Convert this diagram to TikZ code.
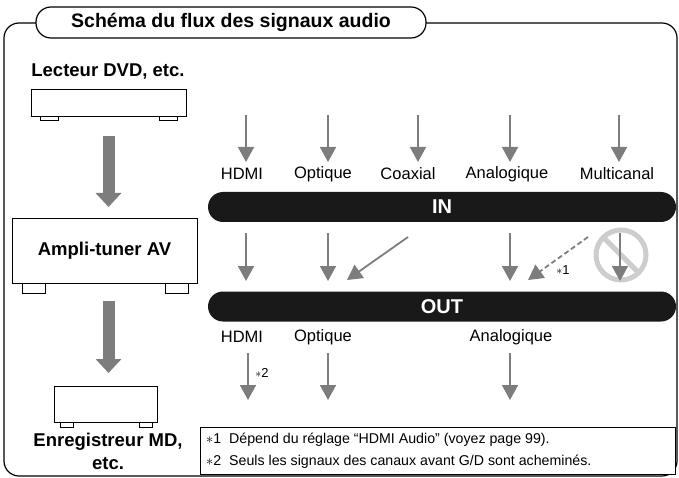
\documentclass[tikz,border=0pt]{standalone}
\usepackage{fontspec}
\setmainfont{Liberation Sans}
\usetikzlibrary{arrows.meta}
\definecolor{arrgray}{RGB}{125,125,125}
\definecolor{nogray}{RGB}{205,205,205}
\tikzset{%
  tipS/.tip={Triangle[width=16pt,length=15pt]},
  tipB/.tip={Triangle[width=25pt,length=14pt]},
  sig/.style={arrgray, line width=1.8pt, -tipS},
  big/.style={arrgray, line width=12pt, -tipB},
  lbl/.style={font=\fontsize{16.5}{18}\selectfont, inner sep=0pt},
  head/.style={font=\bfseries\fontsize{18.5}{21}\selectfont, inner sep=0pt},
  bar/.style={fill=black!90, rounded corners=15pt, minimum width=468pt, minimum height=30pt,
    text=white, font=\bfseries\fontsize{20}{22}\selectfont, inner sep=0pt},
  unit/.style={draw, line width=1pt, fill=white, inner sep=0pt},
  foot/.style={draw, line width=1pt, fill=white},
}
\begin{document}
\begin{tikzpicture}[x=1pt,y=-1pt]
\useasboundingbox (0,0) rectangle (679,478);
% frame and title
\draw[line width=1.2pt, rounded corners=15pt] (4,23) rectangle (677,476);
\draw[line width=1.2pt, fill=white, rounded corners=15pt] (36,7) rectangle (426,38);
\node[head, font=\bfseries\fontsize{19.5}{22}\selectfont] (title) at (231,22.5) {Schéma du flux des signaux audio};
% left column: devices
\node[head] (dvdname) at (108,72) {Lecteur DVD, etc.};
\node[unit, minimum width=155pt, minimum height=27pt] (dvd) at (108.5,103.5) {};
\draw[foot] (40,117) rectangle (58,121);
\draw[foot] (159,117) rectangle (177,121);
\node[unit, minimum width=185pt, minimum height=64pt, font=\bfseries\fontsize{18.5}{21}\selectfont] (amp) at (104.5,251) {Ampli-tuner AV};
\draw[foot] (22,283) rectangle (45,293);
\draw[foot] (165,283) rectangle (188,293);
\node[unit, minimum width=103pt, minimum height=36pt] (md) at (105.5,404) {};
\draw[foot] (60,422) rectangle (73,427);
\draw[foot] (139,422) rectangle (152,427);
\node[head, align=center] (mdname) at (108,451) {Enregistreur MD,\\[2pt]etc.};
\coordinate (dvdout) at (108.5,136);
\coordinate (ampin) at (108.5,207);
\coordinate (ampout) at (108.5,301);
\coordinate (mdin) at (108.5,373);
\draw[big] (dvdout) -- (ampin);
\draw[big] (ampout) -- (mdin);
% bars
\node[bar] (in) at (442,207) {IN};
\node[bar] (out) at (442,306.5) {OUT};
% inputs
\foreach \name/\ax/\lx in {HDMI/246/242, Optique/328/323, Coaxial/418/408, Analogique/510/507, Multicanal/619/617}{
  \coordinate (src\name) at (\ax,115);
  \coordinate (dst\name) at (\ax,162);
  \draw[sig] (src\name) -- (dst\name);
  \node[lbl] (in\name) at (\lx,174) {\name};
}
% between IN and OUT
\foreach \name/\ax in {HDMI/246, Optique/328, Analogique/510, Multicanal/620}{
  \coordinate (mida\name) at (\ax,233);
  \coordinate (midb\name) at (\ax,281);
}
\draw[nogray, line width=5pt] (621,255) circle (25);
\draw[nogray, line width=5pt] (603.3,237.3) -- (638.7,272.7);
\foreach \name in {HDMI, Optique, Analogique, Multicanal}
  \draw[sig] (mida\name) -- (midb\name);
\coordinate (coaxa) at (408,237);
\coordinate (coaxb) at (347,280);
\draw[sig] (coaxa) -- (coaxb);
\coordinate (multa) at (588,237);
\coordinate (multb) at (528,280);
\draw[sig, dash pattern=on 5pt off 3pt] (multa) -- (multb);
\node[lbl, font=\fontsize{13}{15}\selectfont] (n1) at (563,270) {$*$1};
% outputs
\foreach \name/\ax/\lx in {HDMI/248/242, Optique/328/323, Analogique/510/511}{
  \node[lbl] (out\name) at (\lx,337) {\name};
  \coordinate (oa\name) at (\ax,353);
  \coordinate (ob\name) at (\ax,400);
  \draw[sig] (oa\name) -- (ob\name);
}
\node[lbl, font=\fontsize{13}{15}\selectfont] (n2) at (262,373) {$*$2};
% notes
\draw[line width=1pt, fill=white] (200,427) rectangle (675,474);
\node[lbl, anchor=west, font=\fontsize{14.2}{22}\selectfont, align=left] (notes) at (206,451)
  {$*$1\ \ Dépend du réglage “HDMI Audio” (voyez page 99).\\
   $*$2\ \ Seuls les signaux des canaux avant G/D sont acheminés.};
\end{tikzpicture}
\end{document}
